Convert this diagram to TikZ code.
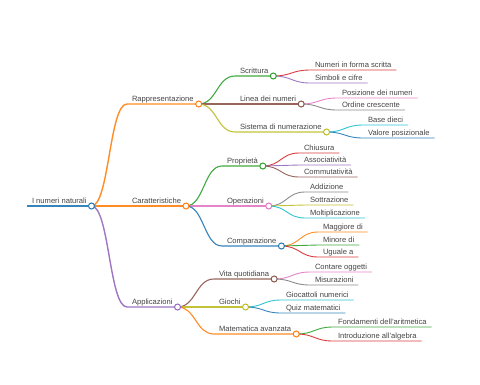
\documentclass[tikz,border=0pt]{standalone}
\usepackage{fontspec}
\setmainfont{Liberation Sans}
\usepackage{xcolor}
\usetikzlibrary{calc}

\definecolor{c0}{HTML}{1F77B4}
\definecolor{c1}{HTML}{FF7F0E}
\definecolor{c2}{HTML}{2CA02C}
\definecolor{c3}{HTML}{D62728}
\definecolor{c4}{HTML}{9467BD}
\definecolor{c5}{HTML}{8C564B}
\definecolor{c6}{HTML}{E377C2}
\definecolor{c7}{HTML}{7F7F7F}
\definecolor{c8}{HTML}{BCBD22}
\definecolor{c9}{HTML}{17BECF}
\definecolor{txt}{HTML}{444444}

\begin{document}
\begin{tikzpicture}[
    x=1pt, y=-1pt,
    topic/.style={anchor=south west, font=\fontsize{7.6}{9}\selectfont, text=txt, inner xsep=5pt, inner ysep=2.8pt, text depth=0pt, outer sep=0pt},
    link/.style={to path={let \p1=(\tikztostart), \p2=(\tikztotarget) in .. controls ({(\x1+\x2)/2},\y1) and ({(\x1+\x2)/2},\y2) .. (\tikztotarget)}},
    w0/.style={line width=1.8pt, draw opacity=0.9},
    w1/.style={line width=1.4pt, draw opacity=0.9},
    w2/.style={line width=1.1pt, draw opacity=0.9},
    w3/.style={line width=0.9pt, draw opacity=0.9},
    dot/.style={circle, draw, fill=white, line width=1pt, minimum size=6pt, inner sep=0pt}
]
    \useasboundingbox (0,0) rectangle (480,384);

    % Radice
    \node[topic] (root) at (27,206) {I numeri naturali};

    % Rami principali
    \node[topic] (rap) at (127,104) {Rappresentazione};
    \node[topic] (car) at (127,206) {Caratteristiche};
    \node[topic] (app) at (127,307) {Applicazioni};

    % Sottorami
    \node[topic] (scr) at (235,76) {Scrittura};
    \node[topic] (lin) at (235,104) {Linea dei numeri};
    \node[topic] (sis) at (235,132) {Sistema di numerazione};
    \node[topic] (pro) at (222,166) {Proprietà};
    \node[topic] (ope) at (222,206) {Operazioni};
    \node[topic] (com) at (222,246) {Comparazione};
    \node[topic] (vit) at (214,279) {Vita quotidiana};
    \node[topic] (gio) at (214,307) {Giochi};
    \node[topic] (mat) at (214,334) {Matematica avanzata};

    % Foglie
    \node[topic] (nfs) at (310,70) {Numeri in forma scritta};
    \node[topic] (sec) at (310,83) {Simboli e cifre};
    \node[topic] (pdn) at (337,98) {Posizione dei numeri};
    \node[topic] (ocr) at (337,110) {Ordine crescente};
    \node[topic] (bdi) at (363,125) {Base dieci};
    \node[topic] (vpo) at (363,138) {Valore posizionale};
    \node[topic] (chi) at (299,153) {Chiusura};
    \node[topic] (ass) at (299,165) {Associatività};
    \node[topic] (cmu) at (299,177) {Commutatività};
    \node[topic] (add) at (305,192) {Addizione};
    \node[topic] (sot) at (305,205) {Sottrazione};
    \node[topic] (mol) at (305,218) {Moltiplicazione};
    \node[topic] (mag) at (318,232) {Maggiore di};
    \node[topic] (mnr) at (318,245) {Minore di};
    \node[topic] (ugu) at (318,257) {Uguale a};
    \node[topic] (con) at (310,272) {Contare oggetti};
    \node[topic] (mis) at (310,285) {Misurazioni};
    \node[topic] (gnu) at (281,300) {Giocattoli numerici};
    \node[topic] (qui) at (281,313) {Quiz matematici};
    \node[topic] (fon) at (333,327) {Fondamenti dell'aritmetica};
    \node[topic] (itr) at (333,341) {Introduzione all'algebra};

    % Linee
    \draw[c0, w0] (root.south west) -- (root.south east);
    \draw[c1, w1] (root.south east) to[link] (rap.south west) -- (rap.south east);
    \draw[c1, w1] (root.south east) to[link] (car.south west) -- (car.south east);
    \draw[c4, w1] (root.south east) to[link] (app.south west) -- (app.south east);

    \draw[c2, w2] (rap.south east) to[link] (scr.south west) -- (scr.south east);
    \draw[c5, w2] (rap.south east) to[link] (lin.south west) -- (lin.south east);
    \draw[c8, w2] (rap.south east) to[link] (sis.south west) -- (sis.south east);
    \draw[c2, w2] (car.south east) to[link] (pro.south west) -- (pro.south east);
    \draw[c6, w2] (car.south east) to[link] (ope.south west) -- (ope.south east);
    \draw[c0, w2] (car.south east) to[link] (com.south west) -- (com.south east);
    \draw[c5, w2] (app.south east) to[link] (vit.south west) -- (vit.south east);
    \draw[c8, w2] (app.south east) to[link] (gio.south west) -- (gio.south east);
    \draw[c1, w2] (app.south east) to[link] (mat.south west) -- (mat.south east);

    \draw[c3, w3] (scr.south east) to[link] (nfs.south west) -- (nfs.south east);
    \draw[c4, w3] (scr.south east) to[link] (sec.south west) -- (sec.south east);
    \draw[c6, w3] (lin.south east) to[link] (pdn.south west) -- (pdn.south east);
    \draw[c7, w3] (lin.south east) to[link] (ocr.south west) -- (ocr.south east);
    \draw[c9, w3] (sis.south east) to[link] (bdi.south west) -- (bdi.south east);
    \draw[c0, w3] (sis.south east) to[link] (vpo.south west) -- (vpo.south east);
    \draw[c3, w3] (pro.south east) to[link] (chi.south west) -- (chi.south east);
    \draw[c4, w3] (pro.south east) to[link] (ass.south west) -- (ass.south east);
    \draw[c5, w3] (pro.south east) to[link] (cmu.south west) -- (cmu.south east);
    \draw[c7, w3] (ope.south east) to[link] (add.south west) -- (add.south east);
    \draw[c8, w3] (ope.south east) to[link] (sot.south west) -- (sot.south east);
    \draw[c9, w3] (ope.south east) to[link] (mol.south west) -- (mol.south east);
    \draw[c1, w3] (com.south east) to[link] (mag.south west) -- (mag.south east);
    \draw[c2, w3] (com.south east) to[link] (mnr.south west) -- (mnr.south east);
    \draw[c3, w3] (com.south east) to[link] (ugu.south west) -- (ugu.south east);
    \draw[c6, w3] (vit.south east) to[link] (con.south west) -- (con.south east);
    \draw[c7, w3] (vit.south east) to[link] (mis.south west) -- (mis.south east);
    \draw[c9, w3] (gio.south east) to[link] (gnu.south west) -- (gnu.south east);
    \draw[c0, w3] (gio.south east) to[link] (qui.south west) -- (qui.south east);
    \draw[c2, w3] (mat.south east) to[link] (fon.south west) -- (fon.south east);
    \draw[c3, w3] (mat.south east) to[link] (itr.south west) -- (itr.south east);

    % Cerchi
    \node[dot, draw=c0] (rootd) at (root.south east) {};
    \node[dot, draw=c1] (rapd) at (rap.south east) {};
    \node[dot, draw=c1] (card) at (car.south east) {};
    \node[dot, draw=c4] (appd) at (app.south east) {};
    \node[dot, draw=c2] (scrd) at (scr.south east) {};
    \node[dot, draw=c5] (lind) at (lin.south east) {};
    \node[dot, draw=c8] (sisd) at (sis.south east) {};
    \node[dot, draw=c2] (prod) at (pro.south east) {};
    \node[dot, draw=c6] (oped) at (ope.south east) {};
    \node[dot, draw=c0] (comd) at (com.south east) {};
    \node[dot, draw=c5] (vitd) at (vit.south east) {};
    \node[dot, draw=c8] (giod) at (gio.south east) {};
    \node[dot, draw=c1] (matd) at (mat.south east) {};
\end{tikzpicture}
\end{document}
